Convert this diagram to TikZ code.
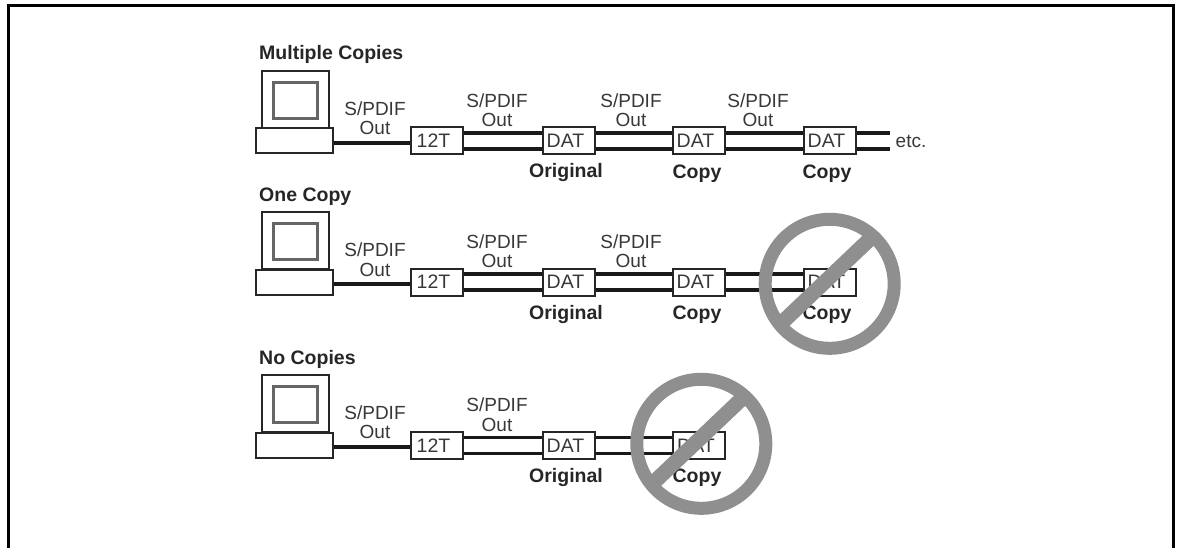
\documentclass[tikz,border=0pt]{standalone}
\usepackage{fontspec}
\setmainfont{Liberation Sans}
\definecolor{ban}{gray}{0.56}
\definecolor{txt}{gray}{0.22}
\tikzset{
  x=1pt,y=-1pt,
  frameline/.style={line width=3pt,black},
  boxline/.style={draw=black!85,line width=2pt,fill=white},
  screenline/.style={draw=black!60,line width=2.2pt,fill=white},
  cable/.style={line width=3.2pt,black!90},
  unit/.style={boxline,minimum width=52pt,minimum height=27pt,inner sep=0pt,font=\fontsize{19.5}{20}\selectfont,text=txt,execute at end node={\hspace{6pt}}},
  lab/.style={inner sep=0pt,align=center,font=\fontsize{19}{19.5}\selectfont,text=txt},
  head/.style={inner sep=0pt,anchor=west,font=\bfseries\fontsize{19.5}{20}\selectfont,text=black!85},
  ban ring/.style={draw=ban,line width=13pt},
  ban bar/.style={draw=ban,line width=15pt},
}
\newcommand{\laptop}[2]{%
  \node[boxline,minimum width=66.5pt,minimum height=57pt,inner sep=0pt] (#1mon) at (295.3,#2+99.5) {};
  \node[screenline,minimum width=44pt,minimum height=36pt,inner sep=0pt] (#1scr) at (295.5,#2+100.5) {};
  \node[boxline,minimum width=76.5pt,minimum height=25pt,inner sep=0pt] (#1base) at (294.5,#2+141) {};
}
\newcommand{\banmark}[3]{%
  \node[ban ring,circle,minimum size=129pt,inner sep=0pt] (#1) at (#2,#3) {};
  \draw[ban bar,shift={(#1.center)}] (-49.5,40.5) -- (42,-46.5);
}
\newcommand{\links}[2]{%
  \draw[cable] ([yshift=8pt]#1.east) -- ([yshift=8pt]#2.west);
  \draw[cable] ([yshift=-8pt]#1.east) -- ([yshift=-8pt]#2.west);
}
\begin{document}
\begin{tikzpicture}
\useasboundingbox (0,0) rectangle (1180,548);
\fill[white] (0,0) rectangle (1180,548);
\coordinate (fa) at (8.5,548);
\coordinate (fb) at (8.5,5.5);
\coordinate (fc) at (1173.5,5.5);
\coordinate (fd) at (1173.5,548);
\draw[frameline] (fa) -- (fb) -- (fc) -- (fd);

% Row 1
\node[head] (h1) at (259,54.5) {Multiple Copies};
\laptop{a}{0}
\node[unit] (a12) at (436.5,141) {12T};
\node[unit] (ad1) at (568.5,141) {DAT};
\node[unit] (ad2) at (698.5,141) {DAT};
\node[unit] (ad3) at (829.5,141) {DAT};
\coordinate (aend1) at (890,133);
\coordinate (aend2) at (890,149);
\draw[cable] (abase.east |- 0,143) -- (a12.west |- 0,143);
\links{a12}{ad1}
\links{ad1}{ad2}
\links{ad2}{ad3}
\draw[cable] ([yshift=8pt]ad3.east) -- (aend1);
\draw[cable] ([yshift=-8pt]ad3.east) -- (aend2);
\node[lab] (al1) at (375,118) {S/PDIF\\Out};
\node[lab] (al2) at (497,110) {S/PDIF\\Out};
\node[lab] (al3) at (631,110) {S/PDIF\\Out};
\node[lab] (al4) at (758,110) {S/PDIF\\Out};
\node[lab] (aetc) at (911,141) {etc.};
\node[head,anchor=center] (ac1) at (566,173) {Original};
\node[head,anchor=center] (ac2) at (697,173.5) {Copy};
\node[head,anchor=center] (ac3) at (827,173.5) {Copy};

% Row 2
\node[head] (h2) at (259,196.5) {One Copy};
\laptop{b}{141}
\node[unit] (b12) at (436.5,282) {12T};
\node[unit] (bd1) at (568.5,282) {DAT};
\node[unit] (bd2) at (698.5,282) {DAT};
\node[unit] (bd3) at (829.5,282) {DAT};
\draw[cable] (bbase.east |- 0,284) -- (b12.west |- 0,284);
\links{b12}{bd1}
\links{bd1}{bd2}
\links{bd2}{bd3}
\node[lab] (bl1) at (375,259.5) {S/PDIF\\Out};
\node[lab] (bl2) at (497,251) {S/PDIF\\Out};
\node[lab] (bl3) at (631,251) {S/PDIF\\Out};
\node[head,anchor=center] (bc1) at (566,314) {Original};
\node[head,anchor=center] (bc2) at (697,314.5) {Copy};
\node[head,anchor=center] (bc3) at (827,314.5) {Copy};
\banmark{bban}{829.7}{283.8}

% Row 3
\node[head] (h3) at (259,359.5) {No Copies};
\laptop{c}{304}
\node[unit] (c12) at (436.5,445.5) {12T};
\node[unit] (cd1) at (568.5,445.5) {DAT};
\node[unit] (cd2) at (699,445.5) {DAT};
\draw[cable] (cbase.east |- 0,447) -- (c12.west |- 0,447);
\links{c12}{cd1}
\links{cd1}{cd2}
\node[lab] (cl1) at (375,422) {S/PDIF\\Out};
\node[lab] (cl2) at (497,414.5) {S/PDIF\\Out};
\node[head,anchor=center] (cc1) at (566,477) {Original};
\node[head,anchor=center] (cc2) at (697,477.5) {Copy};
\banmark{cban}{701.3}{443.8}
\end{tikzpicture}
\end{document}
